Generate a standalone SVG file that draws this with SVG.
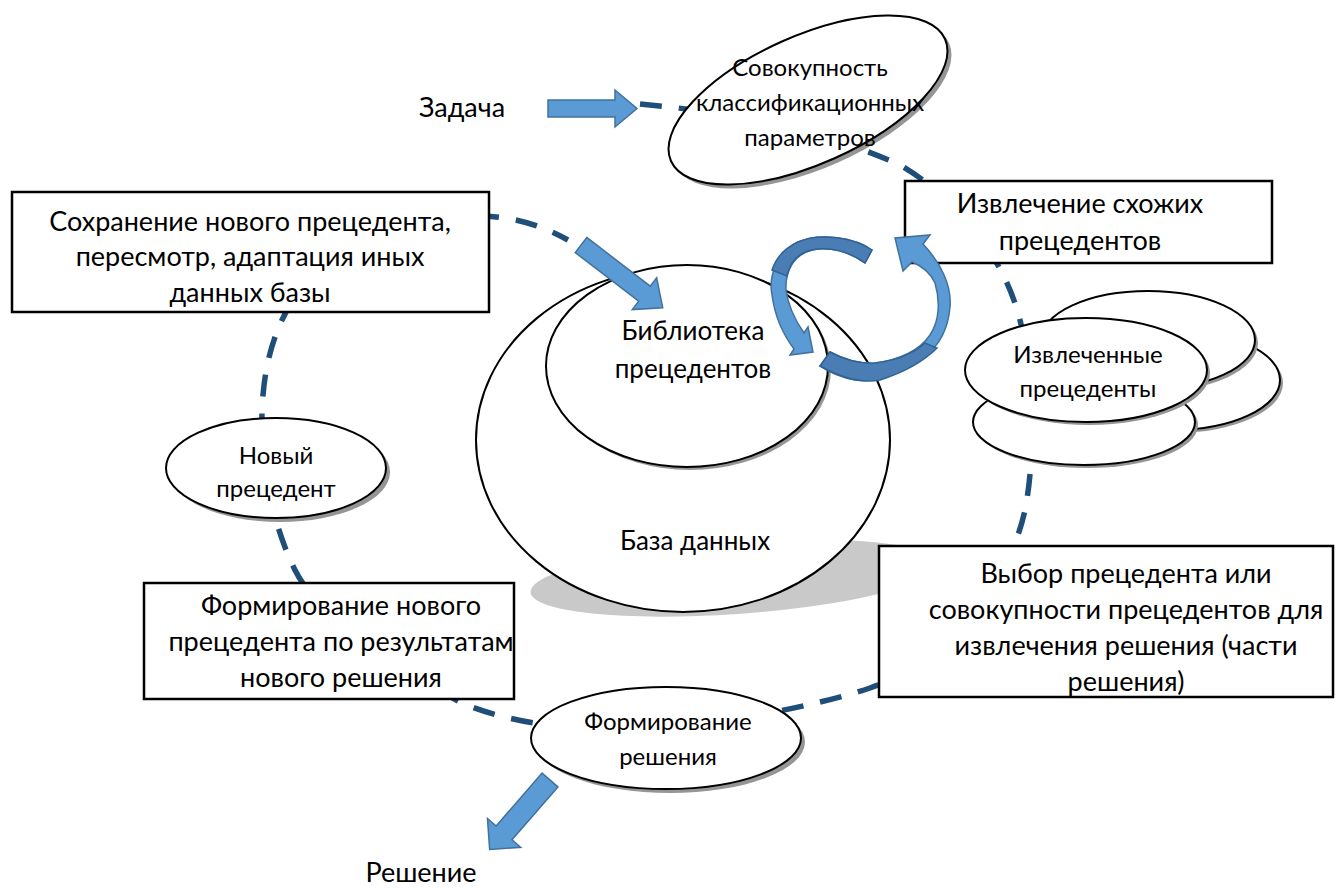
<svg xmlns="http://www.w3.org/2000/svg" width="1336" height="890" viewBox="0 0 1336 890">
<defs>
<style>
text{font-family:Lato,"Liberation Sans",sans-serif;fill:#000;text-anchor:middle}
.big{font-size:27px}
.mid{font-size:26px}
.sm{font-size:24px}
.ell{fill:#fff;stroke:#000;stroke-width:2}
.sh{fill:#959595}
.box{fill:#fff;stroke:#000;stroke-width:2.5}
.blk{fill:#5b9bd5;stroke:#41719c;stroke-width:1.5}
.dk{fill:#4a7db4;stroke:#2f6395;stroke-width:1.5}
.dash{fill:none;stroke:#1f4e79;stroke-width:5.5;stroke-dasharray:22 17}
</style>
</defs>
<rect width="1336" height="890" fill="#fff"/>
<g id="connectors">
<path class="dash" d="M640 104 C700 110 800 120 900 165 C960 200 1005 260 1020 320 C1035 380 1035 460 1025 510 C1010 580 950 660 870 688 C820 705 700 730 620 730 C560 730 500 720 460 702 C400 670 320 620 295 570 C270 520 258 450 263 395 C266 360 275 330 290 305 C320 250 420 205 505 218 C530 222 550 230 568 240"/>
</g>
<g id="db">
<ellipse cx="735" cy="578" rx="205" ry="36" transform="rotate(-4 735 578)" fill="#c9c9c9"/>
<ellipse class="ell" cx="683" cy="440" rx="207" ry="172"/>
<text class="mid" x="695" y="550">База данных</text>
</g>
<g id="library">
<ellipse class="sh" cx="690" cy="369" rx="141" ry="101"/>
<ellipse class="ell" cx="687" cy="366" rx="141" ry="101"/>
<text class="mid" x="693" y="340">Библиотека</text>
<text class="mid" x="693" y="378">прецедентов</text>
</g>
<g id="task">
<text class="big" x="462" y="117">Задача</text>
<path class="blk" d="M548 100 H615 V90 L637 108.5 L615 127 V117 H548 Z"/>
</g>
<g id="params">
<ellipse class="sh" cx="812" cy="104" rx="150" ry="64" transform="rotate(-24 812 104)"/>
<ellipse class="ell" cx="808" cy="100" rx="150" ry="64" transform="rotate(-24 808 100)"/>
<text class="sm" x="810" y="76">Совокупность</text>
<text class="sm" x="810" y="111">классификационных</text>
<text class="sm" x="810" y="146">параметров</text>
</g>
<g id="extract">
<rect class="box" x="905" y="181" width="367" height="82"/>
<text class="big" x="1080" y="213">Извлечение схожих</text>
<text class="big" x="1080" y="250">прецедентов</text>
</g>
<g id="extracted">
<ellipse class="sh" cx="1175" cy="383" rx="108" ry="50"/>
<ellipse class="ell" cx="1172" cy="380" rx="108" ry="50"/>
<ellipse class="sh" cx="1151" cy="343" rx="107" ry="49"/>
<ellipse class="ell" cx="1148" cy="340" rx="107" ry="49"/>
<ellipse class="sh" cx="1087" cy="425" rx="111" ry="43"/>
<ellipse class="ell" cx="1084" cy="422" rx="111" ry="43"/>
<ellipse class="sh" cx="1089" cy="373" rx="121" ry="52"/>
<ellipse class="ell" cx="1086" cy="370" rx="121" ry="52"/>
<text class="sm" x="1088" y="363">Извлеченные</text>
<text class="sm" x="1088" y="397">прецеденты</text>
</g>
<g id="choice">
<rect class="box" x="879" y="546" width="454" height="151"/>
<text class="big" x="1126" y="583">Выбор прецедента или</text>
<text class="big" x="1126" y="619">совокупности прецедентов для</text>
<text class="big" x="1126" y="655">извлечения решения (части</text>
<text class="big" x="1126" y="691">решения)</text>
</g>
<g id="solution-form">
<ellipse class="sh" cx="670" cy="742" rx="135" ry="51"/>
<ellipse class="ell" cx="666" cy="738" rx="135" ry="51"/>
<text class="sm" x="668" y="730">Формирование</text>
<text class="sm" x="668" y="765">решения</text>
</g>
<g id="new-case-form">
<rect class="box" x="144" y="583" width="370" height="116"/>
<text class="big" x="341" y="615">Формирование нового</text>
<text class="big" x="341" y="651">прецедента по результатам</text>
<text class="big" x="341" y="687">нового решения</text>
</g>
<g id="new-case">
<ellipse class="sh" cx="280" cy="472" rx="110" ry="50"/>
<ellipse class="ell" cx="276" cy="468" rx="110" ry="50"/>
<text class="sm" x="276" y="464">Новый</text>
<text class="sm" x="276" y="497">прецедент</text>
</g>
<g id="save">
<rect class="box" x="12" y="192" width="477" height="120"/>
<text class="big" x="250" y="231">Сохранение нового прецедента,</text>
<text class="big" x="250" y="266">пересмотр, адаптация иных</text>
<text class="big" x="250" y="302">данных базы</text>
</g>
<g id="arrow-in">
<path class="blk" transform="translate(581 245) rotate(37.5)" d="M0 -9.5 H80 V-20 L103 0 L80 20 V9.5 H0 Z"/>
</g>
<g id="cycle">
<path class="blk" d="M872 250 C855 238 820 232 798 242 C778 252 768 275 772 295 C775 318 785 337 794 349 L790 355 L813 352 L808 327 L804 333 C795 320 788 305 786 290 C785 272 793 255 812 250 C830 246 850 252 865 263 Z"/>
<path class="dk" d="M872 250 C855 238 820 232 798 242 C785 248 776 258 772 270 L787 276 C790 262 798 253 812 250 C830 246 850 252 865 263 Z"/>
<path class="blk" d="M923 244 C940 262 952 285 950 307 C948 330 940 345 925 356 C905 372 880 382 855 380 C843 378 830 373 820 366 L830 352 C845 360 860 364 875 363 C900 360 920 350 930 335 C940 320 940 300 935 283 C930 272 922 266 912 262 L903 271 L895 238 L930 235 Z"/>
<path class="dk" d="M820 366 L830 352 C845 360 860 364 875 363 C900 360 915 352 925 343 L937 348 C925 360 905 372 880 380 C860 384 838 376 820 366 Z"/>
</g>
<g id="result">
<path class="blk" transform="translate(550 780) rotate(131)" d="M0 -10.5 H70 V-22 L92 0 L70 22 V10.5 H0 Z"/>
<text class="big" x="421" y="882">Решение</text>
</g>
</svg>
